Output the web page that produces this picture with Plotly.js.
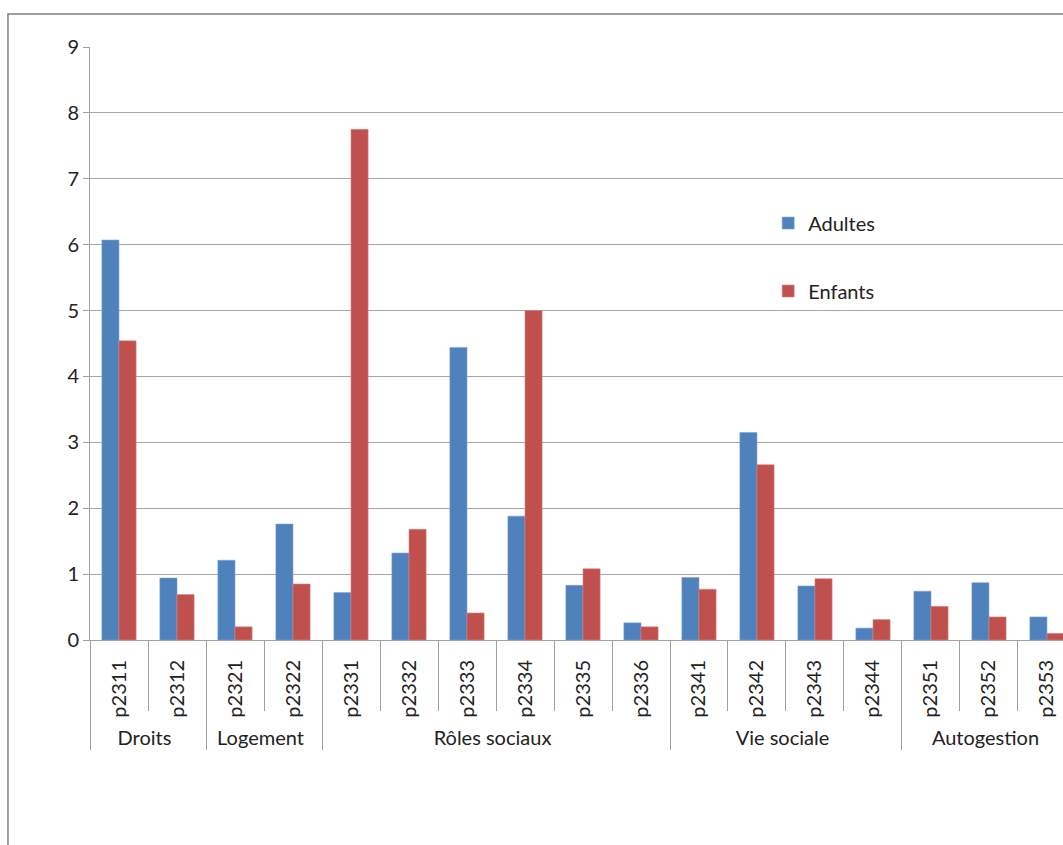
<!DOCTYPE html>
<html><head><meta charset="utf-8">
<script src="https://cdn.plot.ly/plotly-3.0.1.min.js"></script>
<style>body{margin:0;background:#fff;overflow:hidden}#c{width:1063px;height:845px}</style>
</head><body><div id="c"></div>
<script>
const groups = ["Droits","Droits","Logement","Logement","Rôles sociaux","Rôles sociaux","Rôles sociaux","Rôles sociaux","Rôles sociaux","Rôles sociaux","Vie sociale","Vie sociale","Vie sociale","Vie sociale","Autogestion","Autogestion","Autogestion"];
const items = ["p2311","p2312","p2321","p2322","p2331","p2332","p2333","p2334","p2335","p2336","p2341","p2342","p2343","p2344","p2351","p2352","p2353"];
const adultes = [6.07,0.94,1.21,1.76,0.72,1.32,4.44,1.88,0.83,0.26,0.95,3.15,0.82,0.18,0.74,0.87,0.35];
const enfants = [4.54,0.69,0.20,0.85,7.75,1.68,0.41,5.00,1.08,0.20,0.77,2.66,0.93,0.31,0.51,0.35,0.10];
const yTicks = [0,1,2,3,4,5,6,7,8,9];

const font = "Lato, 'Open Sans', sans-serif";
const traces = [
  {type:"bar", name:"Adultes", x:[groups, items], y:adultes, marker:{color:"#4F81BD", line:{color:"#7FA3D3", width:0.6}}, legendgroup:"a"},
  {type:"bar", name:"Enfants", x:[groups, items], y:enfants, marker:{color:"#C0504D", line:{color:"#D88482", width:0.6}}, legendgroup:"b"}
];
const layout = {
  width:1063, height:845,
  margin:{l:90, r:0, t:47, b:205, pad:0},
  paper_bgcolor:"#fff", plot_bgcolor:"#fff",
  font:{family:font, size:20, color:"#222"},
  barmode:"group", bargap:0.41, bargroupgap:0,
  xaxis:{type:"multicategory", range:[-0.5,16.276], tickangle:-90,
    showline:true, linecolor:"#A0A0A0", linewidth:1,
    ticks:"outside", tickson:"boundaries", ticklen:70, tickcolor:"#A0A0A0", tickwidth:1,
    ticklabelstandoff:11,
    showdividers:true, dividercolor:"#A0A0A0", dividerwidth:1,
    showgrid:false, tickfont:{family:font, size:20, color:"#222"}},
  yaxis:{range:[0,9], tickvals:yTicks, ticktext:yTicks.map(String), showgrid:true, gridcolor:"#A6A6A6", gridwidth:1,
    showline:true, linecolor:"#A0A0A0", linewidth:1, ticks:"outside", ticklen:6, tickcolor:"#A0A0A0",
    zeroline:false, tickfont:{family:font, size:20, color:"#222"}},
  showlegend:true,
  legend:{x:0.697, y:0.736, xanchor:"left", yanchor:"top", tracegroupgap:39, bgcolor:"rgba(0,0,0,0)", font:{family:font, size:20, color:"#222"}},
  shapes:[{type:"rect", xref:"paper", yref:"paper", x0:-0.0843, x1:1.2, y0:-0.5, y1:1.0556, line:{color:"#808080", width:1.5}, layer:"below"}]
};
Plotly.newPlot("c", traces, layout, {displayModeBar:false});
</script></body></html>
